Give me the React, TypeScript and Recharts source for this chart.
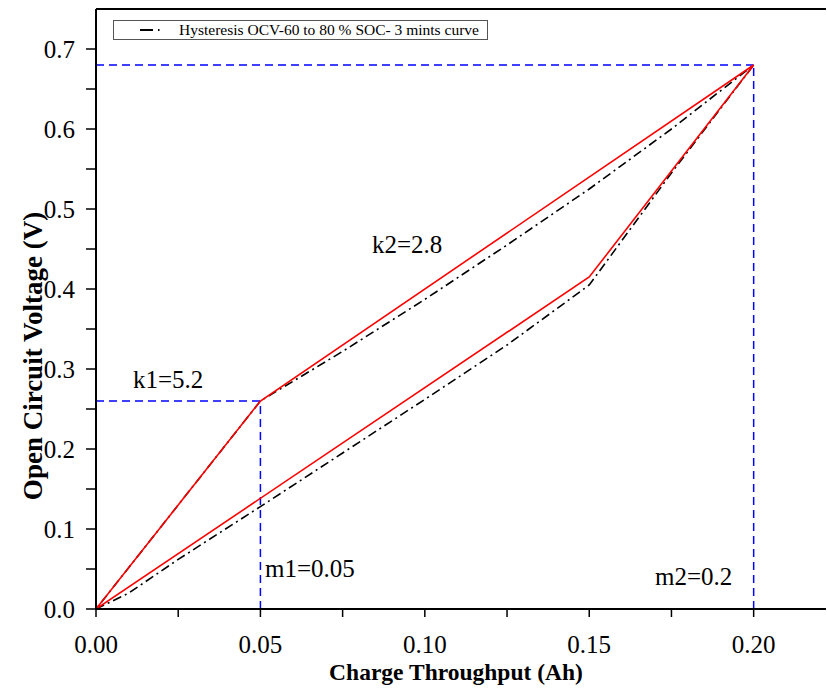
import { LineChart, Line, XAxis, YAxis, ReferenceLine } from 'recharts'

// model (red) loop: charge path up the lower branch, back down the upper one
const modelCharge = [0, 0.15, 0.2, 0.05, 0]
const modelVoltage = [0, 0.415, 0.68, 0.26, 0]

// measured hysteresis (black dash-dot)
const measCharge = [0, 0.01, 0.025, 0.05, 0.075, 0.1, 0.125, 0.15, 0.175, 0.2, 0.175, 0.15, 0.125, 0.1, 0.075, 0.05, 0.025, 0]
const measVoltage = [0, 0.02, 0.062, 0.128, 0.195, 0.262, 0.33, 0.405, 0.545, 0.68, 0.6, 0.525, 0.455, 0.387, 0.322, 0.26, 0.13, 0]

const xTicks = [0, 0.025, 0.05, 0.075, 0.1, 0.125, 0.15, 0.175, 0.2]
const yTicks = [0, 0.05, 0.1, 0.15, 0.2, 0.25, 0.3, 0.35, 0.4, 0.45, 0.5, 0.55, 0.6, 0.65, 0.7]

const m1 = 0.05
const m2 = 0.2
const k1Level = 0.26
const k2Level = 0.68

const model = modelCharge.map((x, i) => ({ x, v: modelVoltage[i] }))
const measured = measCharge.map((x, i) => ({ x, v: measVoltage[i] }))

const serif = '"Liberation Serif", "Times New Roman", serif'
const tickStyle = { fontFamily: serif, fontSize: 25, fill: '#000' }
const blue = '#0000ff'

const note = (left: number, top: number, text: string) => (
  <div style={{ position: 'absolute', left, top, fontFamily: serif, fontSize: 25, lineHeight: 'normal', color: '#000', whiteSpace: 'nowrap' }}>
    {text}
  </div>
)

export default function App() {
  return (
    <div style={{ position: 'absolute', left: 0, top: 0, width: 827, height: 689, background: '#fff' }}>
      <LineChart width={827} height={689} margin={{ top: 9, right: 1, bottom: 30, left: 26 }}>
        <XAxis
          type="number"
          dataKey="x"
          domain={[0, 0.222]}
          ticks={xTicks}
          allowDataOverflow
          tickFormatter={(v: number) => (Math.round(v * 1000) % 50 === 0 ? v.toFixed(2) : '')}
          tick={tickStyle}
          tickSize={8}
          tickMargin={18}
          height={50}
          axisLine={{ stroke: '#000', strokeWidth: 2 }}
          tickLine={{ stroke: '#000', strokeWidth: 1.5 }}
        />
        <YAxis
          type="number"
          dataKey="v"
          domain={[0, 0.75]}
          ticks={yTicks}
          allowDataOverflow
          tickFormatter={(v: number) => (Math.round(v * 100) % 10 === 0 ? v.toFixed(1) : '')}
          tick={tickStyle}
          tickSize={10}
          tickMargin={11}
          width={70}
          axisLine={{ stroke: '#000', strokeWidth: 2 }}
          tickLine={{ stroke: '#000', strokeWidth: 1.5 }}
        />
        <ReferenceLine y={0.75} stroke="#000" strokeWidth={2} ifOverflow="extendDomain" />
        <ReferenceLine segment={[{ x: 0, y: k1Level }, { x: m1, y: k1Level }]} stroke={blue} strokeWidth={1.5} strokeDasharray="8 5" />
        <ReferenceLine segment={[{ x: m1, y: 0 }, { x: m1, y: k1Level }]} stroke={blue} strokeWidth={1.5} strokeDasharray="8 5" />
        <ReferenceLine segment={[{ x: 0, y: k2Level }, { x: m2, y: k2Level }]} stroke={blue} strokeWidth={1.5} strokeDasharray="8 5" />
        <ReferenceLine segment={[{ x: m2, y: 0 }, { x: m2, y: k2Level }]} stroke={blue} strokeWidth={1.5} strokeDasharray="8 5" />
        <Line data={measured} dataKey="v" stroke="#000" strokeWidth={1.6} strokeDasharray="9 4 2 4" dot={false} isAnimationActive={false} />
        <Line data={model} dataKey="v" stroke="#ff0000" strokeWidth={1.6} dot={false} isAnimationActive={false} />
      </LineChart>

      <div
        style={{
          position: 'absolute', left: 113, top: 20, width: 373, height: 18,
          border: '1px solid #555', background: '#fff', display: 'flex', alignItems: 'center',
          fontFamily: serif, fontSize: 15.5, color: '#000', whiteSpace: 'nowrap',
        }}
      >
        <svg width={60} height={10}>
          <line x1={26} y1={5} x2={48} y2={5} stroke="#000" strokeWidth={1.8} strokeDasharray="13 5 1.5 5" />
        </svg>
        <span style={{ marginLeft: 5 }}>Hysteresis OCV-60 to 80 % SOC- 3 mints curve</span>
      </div>

      {note(133, 366, 'k1=5.2')}
      {note(372, 231, 'k2=2.8')}
      {note(265, 555, 'm1=0.05')}
      {note(655, 563, 'm2=0.2')}

      <div style={{ position: 'absolute', left: 456, top: 659, transform: 'translateX(-50%)', fontFamily: serif, fontWeight: 'bold', fontSize: 23.5, color: '#000', whiteSpace: 'nowrap' }}>
        Charge Throughput (Ah)
      </div>
      <div
        style={{
          position: 'absolute', left: 33, top: 356, transform: 'translate(-50%, -50%) rotate(-90deg)',
          fontFamily: serif, fontWeight: 'bold', fontSize: 27, color: '#000', whiteSpace: 'nowrap',
        }}
      >
        Open Circuit Voltage (V)
      </div>
    </div>
  )
}
